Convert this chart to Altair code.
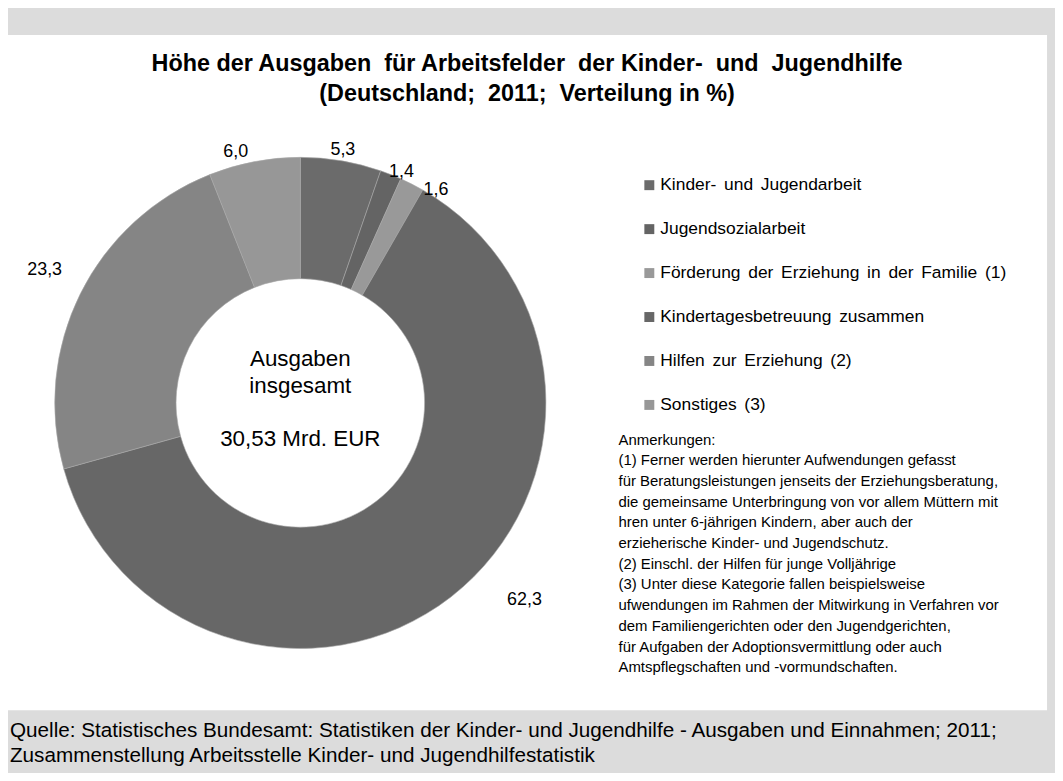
import altair as alt
import pandas as pd

# ---------------- data ----------------
categories = [
    "Kinder- und Jugendarbeit",
    "Jugendsozialarbeit",
    "Förderung der Erziehung in der Familie (1)",
    "Kindertagesbetreuung zusammen",
    "Hilfen zur Erziehung (2)",
    "Sonstiges (3)",
]
shares = [5.3, 1.4, 1.6, 62.3, 23.3, 6.0]
share_labels = ["5,3", "1,4", "1,6", "62,3", "23,3", "6,0"]
colors = ["#6b6b6b", "#646464", "#999999", "#676767", "#858585", "#979797"]

NB = "\u00a0 "   # wide word gap as in the original
title_lines = [
    f"Höhe der Ausgaben{NB}für Arbeitsfelder{NB}der Kinder-{NB}und{NB}Jugendhilfe",
    f"(Deutschland;{NB}2011;{NB}Verteilung in %)",
]
center_top_lines = ["Ausgaben", "insgesamt"]
center_total = "30,53 Mrd. EUR"
note_lines = [
    "Anmerkungen:",
    "(1) Ferner werden hierunter Aufwendungen gefasst",
    "für Beratungsleistungen jenseits der Erziehungsberatung,",
    "die gemeinsame Unterbringung von vor allem Müttern mit",
    "hren unter 6-jährigen Kindern, aber auch der",
    "erzieherische Kinder- und  Jugendschutz.",
    "(2) Einschl. der Hilfen für junge Volljährige",
    "(3) Unter diese Kategorie fallen beispielsweise",
    "ufwendungen im Rahmen der Mitwirkung in Verfahren vor",
    "dem Familiengerichten oder den Jugendgerichten,",
    "für Aufgaben der Adoptionsvermittlung oder auch",
    "Amtspflegschaften und -vormundschaften.",
]
source_lines = [
    "Quelle: Statistisches Bundesamt: Statistiken der Kinder- und Jugendhilfe - Ausgaben und Einnahmen; 2011;",
    "Zusammenstellung Arbeitsstelle Kinder- und Jugendhilfestatistik",
]

df = pd.DataFrame({
    "kategorie": categories,
    "anteil": shares,
    "label": share_labels,
    "ord": list(range(len(categories))),
})
total = sum(shares)

FONT = "Liberation Sans"
CX, CY = 294, 395          # pie centre (chart px)
R_OUT, R_IN = 247, 125

one = pd.DataFrame({"a": [0]})
theta_scale = alt.Scale(domain=[0, total])
color_scale = alt.Scale(domain=categories, range=colors)

# white panel
panel = alt.Chart(one).mark_rect(color="white").encode(
    x=alt.value(0), x2=alt.value(1045), y=alt.value(25), y2=alt.value(704)
)

# doughnut
arcs = alt.Chart(df).mark_arc(
    outerRadius=R_OUT, innerRadius=R_IN, stroke="#a8a8a8", strokeWidth=0.6
).encode(
    theta=alt.Theta("anteil:Q", stack=True, scale=theta_scale),
    color=alt.Color("kategorie:N", scale=color_scale, legend=None),
    order=alt.Order("ord:Q"),
    x=alt.value(CX),
    y=alt.value(CY),
)

# value labels at the mid angle of each slice (best-fit nudges like the original)
lab_base = alt.Chart(df).transform_window(
    cum="sum(anteil)", sort=[alt.SortField("ord")], frame=[None, 0]
).transform_calculate(mid="datum.cum - datum.anteil / 2")


def label_layer(flt, radius, theta_off=0.0):
    return lab_base.transform_filter(flt).mark_text(
        radius=radius, thetaOffset=theta_off, font=FONT, fontSize=18,
        color="black", align="center", baseline="middle"
    ).encode(
        theta=alt.Theta("mid:Q", stack=False, scale=theta_scale),
        text="label:N",
        x=alt.value(CX),
        y=alt.value(CY),
    )


label_layers = [
    label_layer("datum.ord == 0", 258),
    label_layer("datum.ord == 1", 254, 0.035),
    label_layer("datum.ord == 2", 254, 0.095),
    label_layer("datum.ord == 5", 261, -0.063),
    label_layer("datum.ord == 3", 300, -0.19),
    label_layer("datum.ord == 4", 290, 0.02),
]

# centre text
center_txt = alt.Chart(one).mark_text(
    text=center_top_lines, font=FONT, fontSize=22.5, lineHeight=26.7,
    align="center", baseline="top", color="black"
).encode(x=alt.value(CX), y=alt.value(340))
center_total_txt = alt.Chart(one).mark_text(
    text=center_total, font=FONT, fontSize=22.5,
    align="center", baseline="top", color="black"
).encode(x=alt.value(CX), y=alt.value(420))

# title
title_txt = alt.Chart(one).mark_text(
    text=title_lines, font=FONT, fontSize=23.5, fontWeight="bold", lineHeight=30,
    align="center", baseline="top", color="black"
).encode(x=alt.value(522), y=alt.value(42))

# legend (squares + labels)
leg_y = alt.Y("kategorie:N", sort=categories,
              scale=alt.Scale(range=[176, 397], padding=0), axis=None)
leg_sq = alt.Chart(df).mark_square(size=100, opacity=1).encode(
    x=alt.value(645), y=leg_y,
    color=alt.Color("kategorie:N", scale=color_scale, legend=None),
)
leg_tx = alt.Chart(df).transform_calculate(
    disp="replace(datum.kategorie, regexp(' ', 'g'), '\u2006 ')"
).mark_text(
    font=FONT, fontSize=17.5, align="left", baseline="middle", color="black"
).encode(x=alt.value(656), y=leg_y, text="disp:N")

# notes
notes_txt = alt.Chart(one).mark_text(
    text=note_lines, font=FONT, fontSize=15, lineHeight=20.8,
    align="left", baseline="top", color="black"
).encode(x=alt.value(614), y=alt.value(425))

# source footer
source_txt = alt.Chart(one).mark_text(
    text=source_lines, font=FONT, fontSize=20.8, lineHeight=25,
    align="left", baseline="top", color="black"
).encode(x=alt.value(2), y=alt.value(715))

chart = alt.layer(
    panel, arcs, *label_layers, center_txt, center_total_txt, title_txt,
    leg_sq, leg_tx, notes_txt, source_txt
).properties(
    width=1053, height=765, background="#dcdcdc", padding=0,
    autosize=alt.AutoSizeParams(type="none"),
).configure_view(stroke=None)

chart.save("out.html", embed_options={"renderer": "svg", "actions": False})
